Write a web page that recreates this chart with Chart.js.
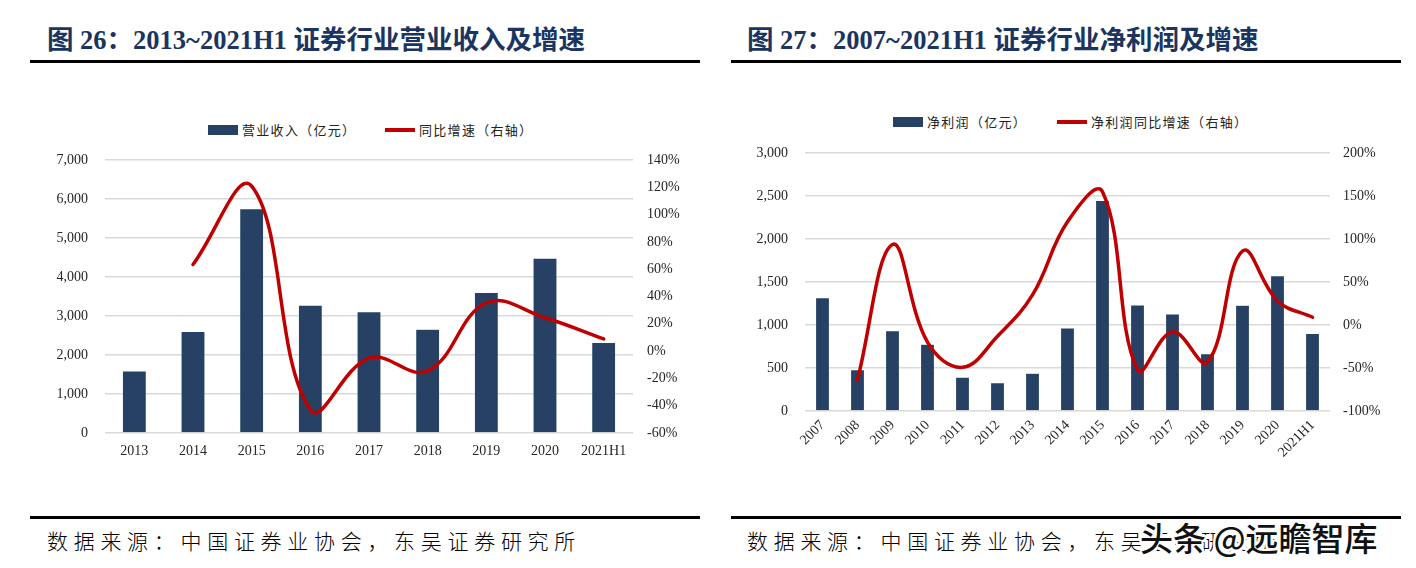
<!DOCTYPE html>
<html>
<head>
<meta charset="utf-8">
<script src="https://cdn.jsdelivr.net/npm/chart.js@4.4.0/dist/chart.umd.min.js"></script>
<style>
  html, body { margin:0; padding:0; background:#fff; }
  body { width:1416px; height:568px; position:relative; overflow:hidden; }
  .title { position:absolute; top:22px; font-family:"Liberation Serif","Noto Sans CJK SC",serif; font-weight:bold; font-size:26.5px; color:#1b3560; white-space:nowrap; line-height:36px; }
  .rule { position:absolute; height:3px; background:#000; }
  .legend { position:absolute; font-family:"Noto Sans CJK SC",sans-serif; font-size:13px; color:#222; white-space:nowrap; line-height:16px; letter-spacing:1.3px; }
  .legend span { position:absolute; top:0; }
  .sw { position:absolute; }
  .source { position:absolute; top:525px; font-family:"Noto Sans CJK SC",sans-serif; font-size:21px; color:#000; letter-spacing:5.7px; white-space:nowrap; line-height:30px; font-weight:300; }
  .wm { position:absolute; left:1140px; top:516px; font-family:"Noto Sans CJK SC",sans-serif; font-size:33px; font-weight:500; color:#111; white-space:nowrap; line-height:42px;
        text-shadow: 2px 0 #fff, -2px 0 #fff, 0 2px #fff, 0 -2px #fff, 2px 2px #fff, -2px -2px #fff, 2px -2px #fff, -2px 2px #fff; }
  canvas { position:absolute; }
</style>
</head>
<body>
<div class="title" style="left:47px;">图 26：2013~2021H1 证券行业营业收入及增速</div>
<div class="rule" style="left:30px; top:60px; width:670px;"></div>
<div class="title" style="left:747px;">图 27：2007~2021H1 证券行业净利润及增速</div>
<div class="rule" style="left:731px; top:60px; width:670px;"></div>

<div class="legend" style="left:0; top:122px;">
  <div class="sw" style="left:208px; top:3px; width:30px; height:10px; background:#264163;"></div>
  <span style="left:242px;">营业收入（亿元）</span>
  <div class="sw" style="left:385px; top:6px; width:30px; height:4px; background:#c00000;"></div>
  <span style="left:419px;">同比增速（右轴）</span>
</div>
<div class="legend" style="left:0; top:114px;">
  <div class="sw" style="left:893px; top:3px; width:30px; height:10px; background:#264163;"></div>
  <span style="left:927px;">净利润（亿元）</span>
  <div class="sw" style="left:1057px; top:6px; width:30px; height:4px; background:#c00000;"></div>
  <span style="left:1091px;">净利润同比增速（右轴）</span>
</div>

<canvas id="c1" style="left:0; top:100px;" width="700" height="373"></canvas>
<canvas id="c2" style="left:700px; top:100px;" width="716" height="371"></canvas>

<div class="rule" style="left:30px; top:516px; width:670px;"></div>
<div class="rule" style="left:731px; top:516px; width:670px;"></div>
<div class="source" style="left:47px;">数据来源：中国证券业协会，东吴证券研究所</div>
<div class="source" style="left:747px;">数据来源：中国证券业协会，东吴证券研究所</div>
<div class="wm">头条 @远瞻智库</div>

<script>
// ---- Chart 26 data ----
const revCategories = ['2013','2014','2015','2016','2017','2018','2019','2020','2021H1'];
const revenue = [1592, 2603, 5751, 3280, 3113, 2663, 3605, 4485, 2324];
const revenueGrowth = [null, 63.4, 120.9, -43.0, -5.1, -14.5, 35.4, 24.4, 8.9];
const revLeftTicks = [0, 1000, 2000, 3000, 4000, 5000, 6000, 7000];
const revRightTicks = [-60, -40, -20, 0, 20, 40, 60, 80, 100, 120, 140];

// ---- Chart 27 data ----
const npCategories = ['2007','2008','2009','2010','2011','2012','2013','2014','2015','2016','2017','2018','2019','2020','2021H1'];
const netProfit = [1318, 482, 934, 776, 394, 329, 440, 966, 2448, 1234, 1130, 666, 1231, 1575, 901];
const netProfitGrowth = [null, -63.5, 93.6, -20, -49.2, -13, 35, 120, 155, -52, -8, -43, 86, 28, 9];
const npLeftTicks = [0, 500, 1000, 1500, 2000, 2500, 3000];
const npRightTicks = [-100, -50, 0, 50, 100, 150, 200];

const BAR = '#264163';
const RED = '#c00000';
const TICK_FONT = { family: '"Liberation Serif", "Times New Roman", serif', size: 14 };
const TICK_COLOR = '#262626';
const GRID = '#d9d9d9';

function fmtThousands(v) { return v.toLocaleString('en-US'); }

function makeChart(id, cats, bars, line, leftTicks, rightTicks, opts) {
  const setTicks = arr => (scale) => { scale.ticks = arr.map(v => ({ value: v })); };
  return new Chart(document.getElementById(id), {
    data: {
      labels: cats,
      datasets: [
        { type: 'line', data: line, yAxisID: 'y1', borderColor: RED, backgroundColor: RED,
          borderWidth: 3.5, pointRadius: 0, tension: opts.tension, order: 0, spanGaps: false,
          borderCapStyle: 'round', borderJoinStyle: 'round' },
        { type: 'bar', data: bars, yAxisID: 'y', backgroundColor: BAR, borderColor: 'rgba(255,255,255,0.5)', borderWidth: 0.6,
          categoryPercentage: 1, barPercentage: opts.barPct, order: 1 }
      ]
    },
    options: {
      responsive: false, animation: false, maintainAspectRatio: false,
      layout: { padding: { top: opts.padTop, left: 0, right: 0, bottom: 0 } },
      plugins: { legend: { display: false }, tooltip: { enabled: false } },
      scales: {
        x: {
          grid: { display: false, drawTicks: false }, border: { display: false },
          ticks: { font: TICK_FONT, color: TICK_COLOR, padding: opts.xPad,
                   maxRotation: opts.rot, minRotation: opts.rot, autoSkip: false },
          afterFit: s => { s.height = opts.xHeight; }
        },
        y: {
          position: 'left', min: leftTicks[0], max: leftTicks[leftTicks.length - 1],
          afterBuildTicks: setTicks(leftTicks),
          grid: { color: GRID, lineWidth: 1.5, drawTicks: false }, border: { display: false },
          ticks: { font: TICK_FONT, color: TICK_COLOR, padding: 17, callback: v => fmtThousands(v) },
          afterFit: s => { s.width = 105; }
        },
        y1: {
          position: 'right', min: rightTicks[0], max: rightTicks[rightTicks.length - 1],
          afterBuildTicks: setTicks(rightTicks),
          grid: { display: false, drawTicks: false }, border: { display: false },
          ticks: { font: TICK_FONT, color: TICK_COLOR, padding: opts.rPad, callback: v => v + '%' },
          afterFit: s => { s.width = opts.rightWidth; }
        }
      }
    }
  });
}

makeChart('c1', revCategories, revenue, revenueGrowth, revLeftTicks, revRightTicks,
  { tension: 0.4, barPct: 0.41, padTop: 60, xHeight: 40, xPad: 10, rot: 0, rPad: 14, rightWidth: 67 });
makeChart('c2', npCategories, netProfit, netProfitGrowth, npLeftTicks, npRightTicks,
  { tension: 0.4, barPct: 0.4, padTop: 53, xHeight: 60, xPad: 6, rot: 45, rPad: 13, rightWidth: 86 });
</script>
</body>
</html>
